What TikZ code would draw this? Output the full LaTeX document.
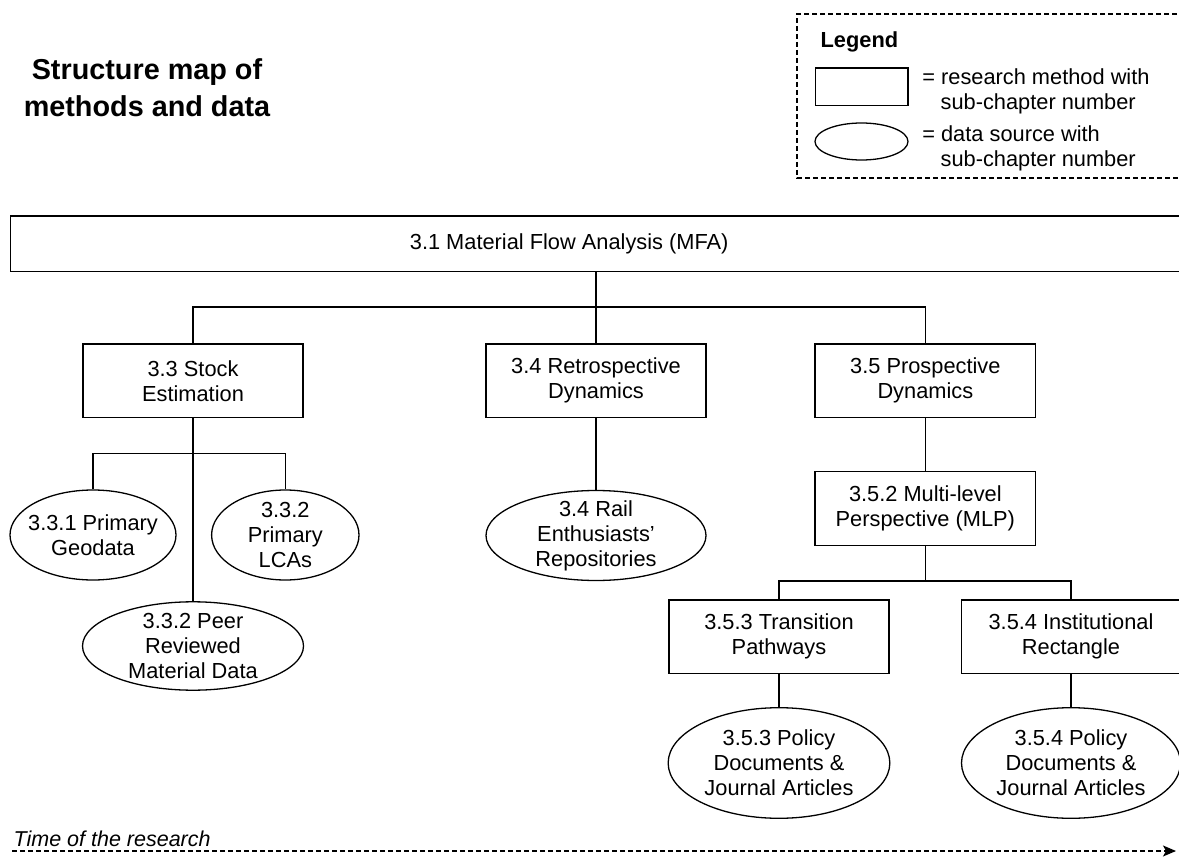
\documentclass[tikz,border=0pt]{standalone}
\usepackage{fontspec}
\setmainfont{Liberation Sans}
\usetikzlibrary{shapes.geometric,arrows.meta}
\begin{document}
\begin{tikzpicture}[x=1pt,y=-1pt,line width=1.3pt,
  body/.style={font=\fontsize{21.8}{25}\selectfont},
  method/.style={draw,rectangle,body,align=center,minimum width=220,minimum height=73.5,inner sep=2},
  datasrc/.style={draw,ellipse,inner sep=0},
  etxt/.style={body,align=center,inner sep=0},
  dashline/.style={dash pattern=on 5pt off 3pt,line width=1.2pt}
]
\useasboundingbox (0,0) rectangle (1179,861);
\clip (0,0) rectangle (1179,861);

% title
\node[font=\fontsize{28.8}{37}\selectfont\bfseries,anchor=base] (title1) at (147,80) {Structure map of};
\node[font=\fontsize{28.8}{37}\selectfont\bfseries,anchor=base] (title2) at (147,117) {methods and data};

% legend
\draw[dashline] (1185,14) -- (797,14) -- (797,178) -- (1185,178);
\node[body,font=\fontsize{21.8}{25}\selectfont\bfseries,anchor=base west,inner sep=0] (legtitle) at (820,47.7) {Legend};
\node[draw,rectangle,minimum width=92.7,minimum height=37.7,inner sep=0] (legrect) at (861.5,87) {};
\node[datasrc,minimum width=93,minimum height=37] (legell) at (861.5,141.5) {};
\node[body,anchor=base west,inner sep=0] (leg1a) at (921.7,84.3) {= research method with};
\node[body,anchor=base west,inner sep=0] (leg1b) at (940,110) {sub-chapter number};
\node[body,anchor=base west,inner sep=0] (leg2a) at (921.7,141.7) {= data source with};
\node[body,anchor=base west,inner sep=0] (leg2b) at (940,166.7) {sub-chapter number};

% MFA
\node[draw,rectangle,minimum width=1179.3,minimum height=55.3,inner sep=0,
  label={[etxt,xshift=-31.15]center:3.1 Material Flow Analysis (MFA)}] (mfa) at (600.35,243.65) {};

% methods
\node[method] (stock) at (193,380.85) {3.3 Stock\\Estimation};
\node[method] (retro) at (596,380.85) {3.4 Retrospective\\Dynamics};
\node[method,minimum width=220.7] (prosp) at (925.35,380.7) {3.5 Prospective\\Dynamics};
\node[method,minimum width=220.7,minimum height=74] (mlp) at (925.35,508.7) {3.5.2 Multi-level\\Perspective (MLP)};
\node[method,minimum height=73.3] (trans) at (779,636.65) {3.5.3 Transition\\Pathways};
\node[method,minimum width=218.6,minimum height=73.3] (inst) at (1071,636.65) {3.5.4 Institutional\\Rectangle};

% data sources
\node[datasrc,minimum width=166,minimum height=90,label={[etxt]center:3.3.1 Primary\\Geodata}] (geo) at (93,535) {};
\node[datasrc,minimum width=147.4,minimum height=90,label={[etxt]center:3.3.2\\Primary\\LCAs}] (lca) at (285.3,535) {};
\node[datasrc,minimum width=221,minimum height=88.4,label={[etxt]center:3.3.2 Peer\\Reviewed\\Material Data}] (peer) at (193,646) {};
\node[datasrc,minimum width=220,minimum height=90,label={[etxt]center:3.4 Rail\\Enthusiasts'\\Repositories}] (rail) at (596,535.5) {};
\node[datasrc,minimum width=221.7,minimum height=110.6,label={[etxt]center:3.5.3 Policy\\Documents \&\\Journal Articles}] (pol1) at (779,763) {};
\node[datasrc,minimum width=219,minimum height=110.6,label={[etxt]center:3.5.4 Policy\\Documents \&\\Journal Articles}] (pol2) at (1071,763) {};

% connectors
\draw (stock.north) -- ++(0,-36.5) coordinate (j1) -| (prosp.north);
\draw (mfa.south -| retro.north) -- (retro.north);
\draw (stock.south) -- (peer.north);
\draw (geo.north) -- ++(0,-36) coordinate (j2) -| (lca.north);
\draw (retro.south) -- (rail.north);
\draw (prosp.south) -- (mlp.north);
\draw (trans.north) -- ++(0,-18.3) coordinate (j3) -| (inst.north);
\draw (mlp.south) -- (mlp.south |- j3);
\draw (trans.south) -- (pol1.north);
\draw (inst.south) -- (pol2.north);

% time axis
\coordinate (t0) at (12,851);
\coordinate (t1) at (1176,851);
\draw[dashline,-{Stealth[length=13pt,width=11pt,inset=3pt]}] (t0) -- (t1);
\node[body,font=\fontsize{21.5}{25}\selectfont\itshape,anchor=base west,inner sep=0] (timetxt) at (13,846) {Time of the research};
\end{tikzpicture}
\end{document}
